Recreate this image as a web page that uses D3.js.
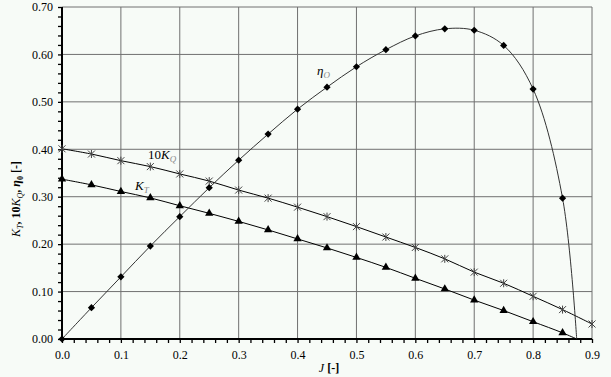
<!doctype html>
<html lang="en">
<head>
  <meta charset="utf-8">
  <title>Open water characteristics - D3</title>
  <style>
    body { margin: 0; background: #f7fbf7; }
    svg { display: block; font-family: "Liberation Serif", "DejaVu Serif", serif; }
  </style>
</head>
<body>
  <svg></svg>
  <script src="https://cdn.jsdelivr.net/npm/d3@7/dist/d3.min.js"></script>
  <script>
    const width = 611;
    const height = 377;
    const margin = { top: 7, right: 19, bottom: 38, left: 62 };

    // advance ratio J
    const J = [0, 0.05, 0.1, 0.15, 0.2, 0.25, 0.3, 0.35, 0.4, 0.45, 0.5, 0.55, 0.6, 0.65, 0.7, 0.75, 0.8, 0.85, 0.9];
    // thrust coefficient KT
    const kt = [0.337, 0.325, 0.311, 0.2975, 0.281, 0.265, 0.248, 0.230, 0.211, 0.192, 0.172, 0.151, 0.128, 0.1055, 0.082, 0.060, 0.0365, 0.013];
    // 10 * torque coefficient KQ
    const kq10 = [0.401, 0.390, 0.376, 0.3635, 0.348, 0.333, 0.314, 0.297, 0.278, 0.258, 0.237, 0.215, 0.193, 0.169, 0.141, 0.1175, 0.090, 0.062, 0.0316];
    // open water efficiency eta0
    const eta = [0, 0.066, 0.131, 0.196, 0.258, 0.319, 0.377, 0.432, 0.4846, 0.531, 0.574, 0.610, 0.639, 0.654, 0.651, 0.619, 0.527, 0.297];
    // where the trend curves of KT and eta0 reach zero
    const zeroJ = 0.874;

    const xTicks = [0, 0.1, 0.2, 0.3, 0.4, 0.5, 0.6, 0.7, 0.8, 0.9];
    const yTicks = [0, 0.1, 0.2, 0.3, 0.4, 0.5, 0.6, 0.7];

    const svg = d3.select('svg')
      .attr('width', width)
      .attr('height', height)
      .attr('viewBox', [0, 0, width, height]);

    const x = d3.scaleLinear().domain([0, 0.9]).range([margin.left, width - margin.right]);
    const y = d3.scaleLinear().domain([0, 0.7]).range([height - margin.bottom, margin.top]);

    // 网格
    svg.append('g')
      .selectAll('line')
      .data(xTicks.slice(1))
      .join('line')
      .attr('x1', d => x(d)).attr('x2', d => x(d))
      .attr('y1', y(0)).attr('y2', y(0.7))
      .attr('stroke', '#707070');
    svg.append('g')
      .selectAll('line')
      .data(yTicks.slice(1))
      .join('line')
      .attr('x1', x(0)).attr('x2', x(0.9))
      .attr('y1', d => y(d)).attr('y2', d => y(d))
      .attr('stroke', '#707070');

    // 小刻度
    const minorX = d3.range(0, 0.9001, 0.02);
    const minorY = d3.range(0, 0.7001, 0.02);

    svg.append('g')
      .attr('transform', 'translate(0,' + y(0) + ')')
      .call(d3.axisBottom(x).tickValues(minorX).tickSize(4).tickFormat(''))
      .call(g => g.select('.domain').remove())
      .call(g => g.selectAll('.tick line').attr('stroke-width', 1.3));
    svg.append('g')
      .attr('transform', 'translate(' + x(0) + ',0)')
      .call(d3.axisLeft(y).tickValues(minorY).tickSize(4).tickFormat(''))
      .call(g => g.select('.domain').remove())
      .call(g => g.selectAll('.tick line').attr('stroke-width', 1.3));

    // 刻度文字
    svg.append('g')
      .attr('transform', 'translate(0,' + y(0) + ')')
      .call(d3.axisBottom(x).tickValues(xTicks).tickSize(0).tickPadding(11).tickFormat(d3.format('.1f')))
      .attr('font-family', null)
      .attr('font-size', 12)
      .call(g => g.select('.domain').remove())
      .call(g => g.selectAll('text').attr('fill', '#000'));
    svg.append('g')
      .attr('transform', 'translate(' + x(0) + ',0)')
      .call(d3.axisLeft(y).tickValues(yTicks).tickSize(0).tickPadding(9).tickFormat(d3.format('.2f')))
      .attr('font-family', null)
      .attr('font-size', 12)
      .call(g => g.select('.domain').remove())
      .call(g => g.selectAll('text').attr('fill', '#000'));

    // 坐标轴线
    svg.append('line')
      .attr('x1', x(0)).attr('x2', x(0.9))
      .attr('y1', y(0)).attr('y2', y(0))
      .attr('stroke', '#000').attr('stroke-width', 2);
    svg.append('line')
      .attr('x1', x(0)).attr('x2', x(0))
      .attr('y1', y(0)).attr('y2', y(0.7))
      .attr('stroke', '#000').attr('stroke-width', 2);

    // 曲线
    const line = d3.line()
      .x(d => x(d[0]))
      .y(d => y(d[1]))
      .curve(d3.curveCatmullRom.alpha(0.5));

    const ktPts = kt.map((v, i) => [J[i], v]);
    const kqPts = kq10.map((v, i) => [J[i], v]);
    const etaPts = eta.map((v, i) => [J[i], v]);

    svg.append('path')
      .datum(ktPts.concat([[zeroJ, 0]]))
      .attr('d', line)
      .attr('fill', 'none').attr('stroke', '#000').attr('stroke-width', 1);
    svg.append('path')
      .datum(kqPts)
      .attr('d', line)
      .attr('fill', 'none').attr('stroke', '#000').attr('stroke-width', 1);
    svg.append('path')
      .datum(etaPts.concat([[zeroJ, 0]]))
      .attr('d', line)
      .attr('fill', 'none').attr('stroke', '#333').attr('stroke-width', 1);

    // 标记点
    svg.append('g')
      .selectAll('path')
      .data(ktPts)
      .join('path')
      .attr('transform', d => 'translate(' + x(d[0]) + ',' + y(d[1]) + ')')
      .attr('d', d3.symbol(d3.symbolTriangle, 30))
      .attr('fill', '#000');

    svg.append('g')
      .selectAll('path')
      .data(etaPts)
      .join('path')
      .attr('transform', d => 'translate(' + x(d[0]) + ',' + y(d[1]) + ')')
      .attr('d', 'M0,-3.6L3.6,0L0,3.6L-3.6,0Z')
      .attr('fill', '#000');

    svg.append('g')
      .selectAll('path')
      .data(kqPts)
      .join('path')
      .attr('transform', d => 'translate(' + x(d[0]) + ',' + y(d[1]) + ')')
      .attr('d', 'M-3.5,-3.5L3.5,3.5M-3.5,3.5L3.5,-3.5M0,-4V4')
      .attr('fill', 'none')
      .attr('stroke', '#444')
      .attr('stroke-width', 1);

    // 曲线标签
    function curveLabel(px, py, prefix, main, sub) {
      const t = svg.append('text')
        .attr('x', px).attr('y', py)
        .attr('font-size', 13);
      if (prefix) t.append('tspan').text(prefix);
      t.append('tspan').attr('font-style', 'italic').text(main);
      t.append('tspan').attr('font-size', 9).attr('dy', 3).attr('fill', '#888').attr('font-style', 'italic').text(sub);
    }

    curveLabel(148, 159, '10', 'K', 'Q');
    curveLabel(135, 190, '', 'K', 'T');
    curveLabel(317, 75, '', 'η', 'O');

    // 坐标轴标题
    const xt = svg.append('text')
      .attr('x', x(0.45) + 2).attr('y', 372)
      .attr('text-anchor', 'middle')
      .attr('font-size', 12);
    xt.append('tspan').attr('font-style', 'italic').text('J ');
    xt.append('tspan').attr('font-weight', 'bold').text('[-]');

    const yt = svg.append('text')
      .attr('transform', 'translate(20,' + 199 + ') rotate(-90)')
      .attr('text-anchor', 'middle')
      .attr('font-size', 12)
      .attr('font-weight', 'bold');
    yt.append('tspan').attr('font-style', 'italic').attr('font-weight', 'normal').text('K');
    yt.append('tspan').attr('font-size', 8).attr('dy', 3).attr('font-style', 'italic').attr('font-weight', 'normal').text('T');
    yt.append('tspan').attr('dy', -3).text(', 10');
    yt.append('tspan').attr('font-style', 'italic').attr('font-weight', 'normal').text('K');
    yt.append('tspan').attr('font-size', 8).attr('dy', 3).attr('font-style', 'italic').attr('font-weight', 'normal').text('Q');
    yt.append('tspan').attr('dy', -3).text(', ');
    yt.append('tspan').attr('font-style', 'italic').text('η');
    yt.append('tspan').attr('font-size', 8).attr('dy', 3).text('0');
    yt.append('tspan').attr('dy', -3).text(' [-]');
  </script>
</body>
</html>
